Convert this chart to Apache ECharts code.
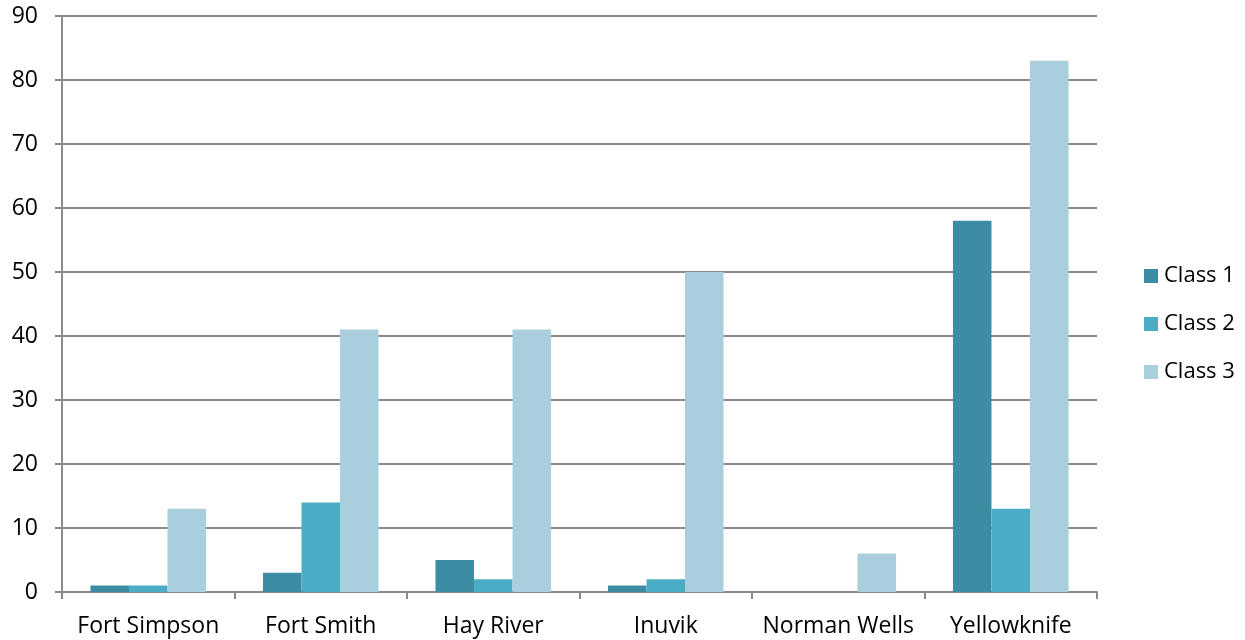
<!DOCTYPE html>
<html>
<head>
<meta charset="utf-8">
<script src="https://cdn.jsdelivr.net/npm/echarts@6/dist/echarts.min.js"></script>
<style>
  html, body { margin: 0; padding: 0; background: #fff; }
  #chart { width: 1245px; height: 640px; }
</style>
</head>
<body>
<div id="chart"></div>
<script>
const categories = ['Fort Simpson', 'Fort Smith', 'Hay River', 'Inuvik', 'Norman Wells', 'Yellowknife'];
const class1 = [1, 3, 5, 1, 0, 58];
const class2 = [1, 14, 2, 2, 0, 13];
const class3 = [13, 41, 41, 50, 6, 83];
const seriesNames = ['Class 1', 'Class 2', 'Class 3'];
const colors = ['#3C8CA3', '#4BACC6', '#A9CFDC'];

const font = 'Open Sans, Calibri, Carlito, sans-serif';
const chart = echarts.init(document.getElementById('chart'), null, { renderer: 'canvas' });

chart.setOption({
  animation: false,
  color: colors,
  grid: { left: 62, right: 148, top: 16, bottom: 48, containLabel: false },
  legend: {
    orient: 'vertical',
    left: 1139,
    top: 259,
    itemWidth: 14,
    itemHeight: 14,
    itemGap: 24,
    icon: 'rect',
    textStyle: { fontFamily: font, fontSize: 22, lineHeight: 24, color: '#000', padding: [0, 0, 0, 1] },
    data: seriesNames
  },
  xAxis: {
    type: 'category',
    data: categories,
    axisLine: { lineStyle: { color: '#8a8a8a', width: 2 } },
    axisTick: { show: true, interval: 0, length: 7, lineStyle: { color: '#8a8a8a', width: 2 } },
    axisLabel: { interval: 0, hideOverlap: false, fontFamily: font, fontSize: 23, color: '#000', margin: 23 }
  },
  yAxis: {
    type: 'value',
    min: 0,
    max: 90,
    interval: 10,
    axisLine: { show: true, lineStyle: { color: '#8a8a8a', width: 2 } },
    axisTick: { show: true, length: 7, lineStyle: { color: '#8a8a8a', width: 2 } },
    axisLabel: { fontFamily: font, fontSize: 23, color: '#000', margin: 24 },
    splitLine: { lineStyle: { color: '#8a8a8a', width: 2 } }
  },
  series: [
    { name: seriesNames[0], type: 'bar', data: class1, barGap: '0%', barCategoryGap: '33%' },
    { name: seriesNames[1], type: 'bar', data: class2, barGap: '0%', barCategoryGap: '33%' },
    { name: seriesNames[2], type: 'bar', data: class3, barGap: '0%', barCategoryGap: '33%' }
  ]
});
</script>
</body>
</html>
